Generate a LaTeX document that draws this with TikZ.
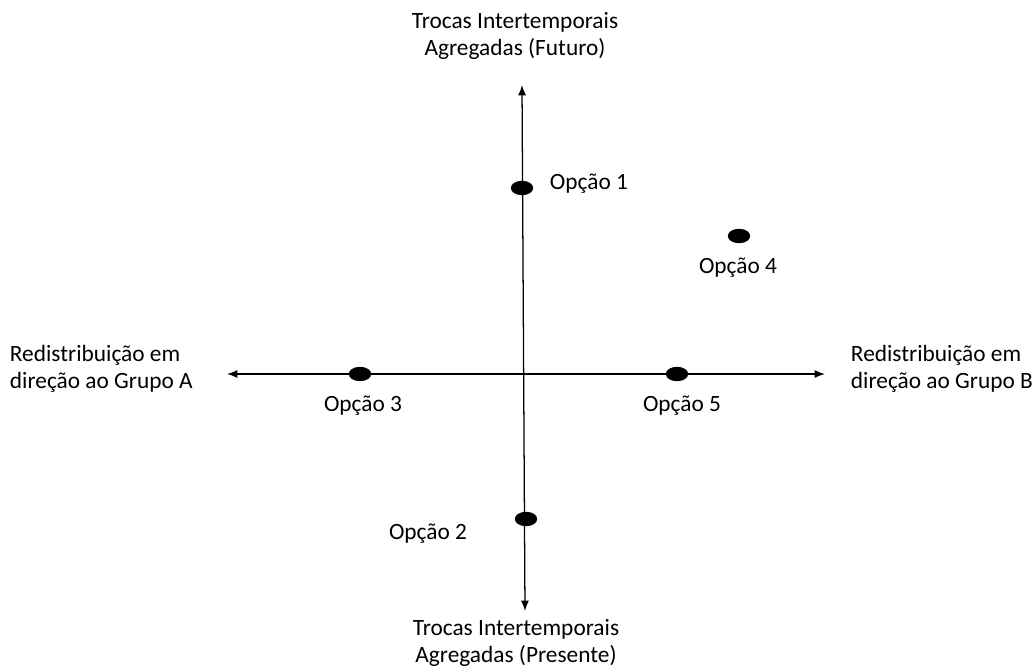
\documentclass[tikz,border=0pt]{standalone}
\usepackage{fontspec}
\setmainfont{Carlito}
\usetikzlibrary{arrows.meta,shapes.geometric}
\begin{document}
\begin{tikzpicture}[x=0.025cm, y=-0.025cm,
    every node/.style={font=\fontsize{16.6}{19}\selectfont, align=center},
    dot/.style={ellipse, fill=black, inner sep=0pt, minimum width=0.56cm, minimum height=0.36cm},
    axis/.style={line width=0.9pt, {Latex[length=2.6mm,width=2mm]}-{Latex[length=2.6mm,width=2mm]}}]
    \useasboundingbox (0,0) rectangle (1034,668);
    % axes
    \coordinate (top) at (522,85);
    \coordinate (bot) at (525,611);
    \coordinate (lft) at (227,374);
    \coordinate (rgt) at (825,374);
    \draw[axis] (bot) -- (top);
    \draw[axis] (lft) -- (rgt);
    % axis labels
    \node (fut) at (515,36) {Trocas Intertemporais\\Agregadas (Futuro)};
    \node (pre) at (516,643) {Trocas Intertemporais\\Agregadas (Presente)};
    \node[anchor=west, align=left] (grpA) at (5,369) {Redistribuição em\\direção ao Grupo A};
    \node[anchor=west, align=left] (grpB) at (846,369) {Redistribuição em\\direção ao Grupo B};
    % options
    \node[dot] (op1) at (522,188) {};
    \node[dot] (op2) at (526,519) {};
    \node[dot] (op3) at (360,374) {};
    \node[dot] (op4) at (739,236) {};
    \node[dot] (op5) at (677,374) {};
    \node[anchor=west] (lb1) at (545,184) {Opção 1};
    \node (lb2) at (428,534) {Opção 2};
    \node (lb3) at (363,406) {Opção 3};
    \node (lb4) at (738,268) {Opção 4};
    \node (lb5) at (682,406) {Opção 5};
\end{tikzpicture}
\end{document}
